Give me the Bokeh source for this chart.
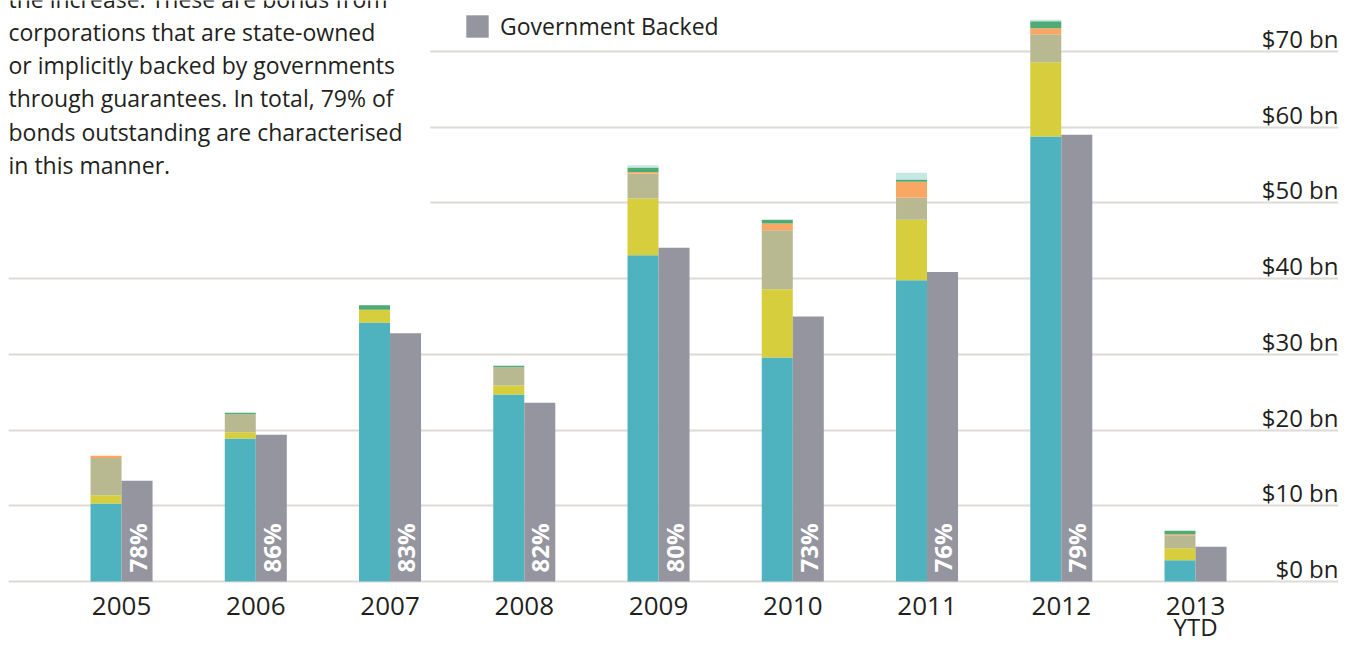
import math
from bokeh.plotting import figure
from bokeh.models import (ColumnDataSource, FixedTicker, Legend, LegendItem,
                          Label, BoxAnnotation, Range1d, LinearAxis)
from bokeh.core.properties import value
from bokeh.embed import file_html
from bokeh.resources import INLINE

# ---------------- data ----------------
years = ["2005", "2006", "2007", "2008", "2009", "2010", "2011", "2012", "2013"]
year_suffix = ["", "", "", "", "", "", "", "", "YTD"]
teal_vals   = [10.3, 18.9, 34.2, 24.7, 43.1, 29.6, 39.8, 58.8, 2.8]
yellow_vals = [1.1, 0.8, 1.7, 1.2, 7.5, 9.0, 8.0, 9.8, 1.6]
khaki_vals  = [4.9, 2.4, 0.0, 2.4, 3.3, 7.8, 2.9, 3.7, 1.7]
orange_vals = [0.3, 0.0, 0.0, 0.0, 0.2, 0.9, 2.1, 0.8, 0.15]
green_vals  = [0.0, 0.2, 0.6, 0.2, 0.6, 0.5, 0.3, 0.9, 0.45]
cyan_vals   = [0.0, 0.0, 0.0, 0.0, 0.3, 0.0, 0.9, 0.2, 0.0]
gov_vals    = [13.3, 19.4, 32.8, 23.6, 44.1, 35.0, 40.9, 59.0, 4.6]
gov_share   = ["78%", "86%", "83%", "82%", "80%", "73%", "76%", "79%", ""]
y_ticks = [0, 10, 20, 30, 40, 50, 60, 70]
y_tick_labels = ["$0 bn", "$10 bn", "$20 bn", "$30 bn", "$40 bn", "$50 bn", "$60 bn", "$70 bn"]
note_lines = [
    "the increase. These are bonds from",
    "corporations that are state-owned",
    "or implicitly backed by governments",
    "through guarantees. In total, 79% of",
    "bonds outstanding are characterised",
    "in this manner.",
]

# ---------------- style ----------------
FONT = "Open Sans"
TXT = "#231f20"
GRID = "#dedad5"
colors = ["#4eb3bf", "#d6ce3d", "#b8b990", "#f9a762", "#4fab75", "#c5e8e4"]
GOV = "#9595a0"
BW = 0.231

n = len(years)
idx = list(range(n))
src = ColumnDataSource(dict(
    xm=[i - BW / 2 for i in idx],
    xg=[i + BW / 2 for i in idx],
    teal=teal_vals, yellow=yellow_vals, khaki=khaki_vals,
    orange=orange_vals, green=green_vals, cyan=cyan_vals,
    gov=gov_vals, share=gov_share, base=[0] * n,
))

x_start, x_end = -0.842, 9.065
y_start, y_end = -0.264, 76.75

p = figure(width=1354, height=646, x_range=Range1d(x_start, x_end),
           y_range=Range1d(y_start, y_end), output_backend="svg",
           toolbar_location=None, min_border_left=8, min_border_right=16,
           min_border_top=0, min_border_bottom=63, outline_line_color=None,
           background_fill_color="white", border_fill_color="white")

# grid
p.xgrid.visible = False
p.ygrid.ticker = FixedTicker(ticks=y_ticks)
p.ygrid.grid_line_color = GRID
p.ygrid.grid_line_width = 2
p.yaxis.visible = False


def style_axis(ax, standoff, size):
    ax.axis_line_color = None
    ax.major_tick_line_color = None
    ax.minor_tick_line_color = None
    ax.major_tick_out = 0
    ax.major_tick_in = 0
    ax.major_label_standoff = standoff
    ax.major_label_text_font = FONT
    ax.major_label_text_font_size = size
    ax.major_label_text_color = TXT


# x axis (year) and a second row for the "YTD" suffix
p.xaxis.ticker = FixedTicker(ticks=idx)
p.xaxis.major_label_overrides = {i: years[i] for i in idx}
style_axis(p.xaxis[0], 13, "26px")

suffix_ticks = [i for i in idx if year_suffix[i]]
ax2 = LinearAxis(ticker=FixedTicker(ticks=suffix_ticks),
                 major_label_overrides={i: year_suffix[i] for i in suffix_ticks})
style_axis(ax2, -8, "24px")
p.add_layout(ax2, "below")

# stacked bars
stack_keys = ["teal", "yellow", "khaki", "orange", "green", "cyan"]
p.vbar_stack(stack_keys, x="xm", width=BW, color=colors, line_width=0,
             line_alpha=0, source=src)
gov_r = p.vbar(x="xg", top="gov", bottom=0, width=BW, color=GOV, line_alpha=0,
               source=src)

# percentage labels inside government bars
p.text(x="xg", y="base", text="share", source=src, angle=math.pi / 2,
       text_align="left", text_baseline="middle", y_offset=-9,
       text_color="white", text_font=value(FONT), text_font_style="bold",
       text_font_size="24px")

# right-side y labels sitting on gridlines
ysrc = ColumnDataSource(dict(y=y_ticks, t=y_tick_labels, x=[x_end] * len(y_ticks)))
p.text(x="x", y="y", text="t", source=ysrc, text_align="right",
       text_baseline="alphabetic", y_offset=-13, text_color=TXT,
       text_font=value(FONT), text_font_size="24px")

# white box behind note text
p.add_layout(BoxAnnotation(left=x_start - 1, right=2.30, bottom=49.0, top=y_end + 10,
                           fill_color="white", fill_alpha=1, line_alpha=0))

baselines = [-2, 31, 64, 97, 131, 164]
for line, b in zip(note_lines, baselines):
    p.add_layout(Label(x=x_start, y=y_end, x_units="data", y_units="data",
                       y_offset=-b, text=line, text_baseline="alphabetic",
                       text_align="left", text_font=FONT, text_font_size="23px",
                       text_color=TXT))

legend = Legend(items=[LegendItem(label="Government Backed", renderers=[gov_r])],
                location=(455, 541), orientation="vertical",
                border_line_alpha=0, background_fill_alpha=0,
                glyph_width=28, glyph_height=28, label_standoff=9,
                padding=0, margin=0, spacing=0,
                label_text_font=FONT, label_text_font_size="23px",
                label_text_color=TXT)
p.add_layout(legend)

open("out.html", "w").write(file_html(p, INLINE))
